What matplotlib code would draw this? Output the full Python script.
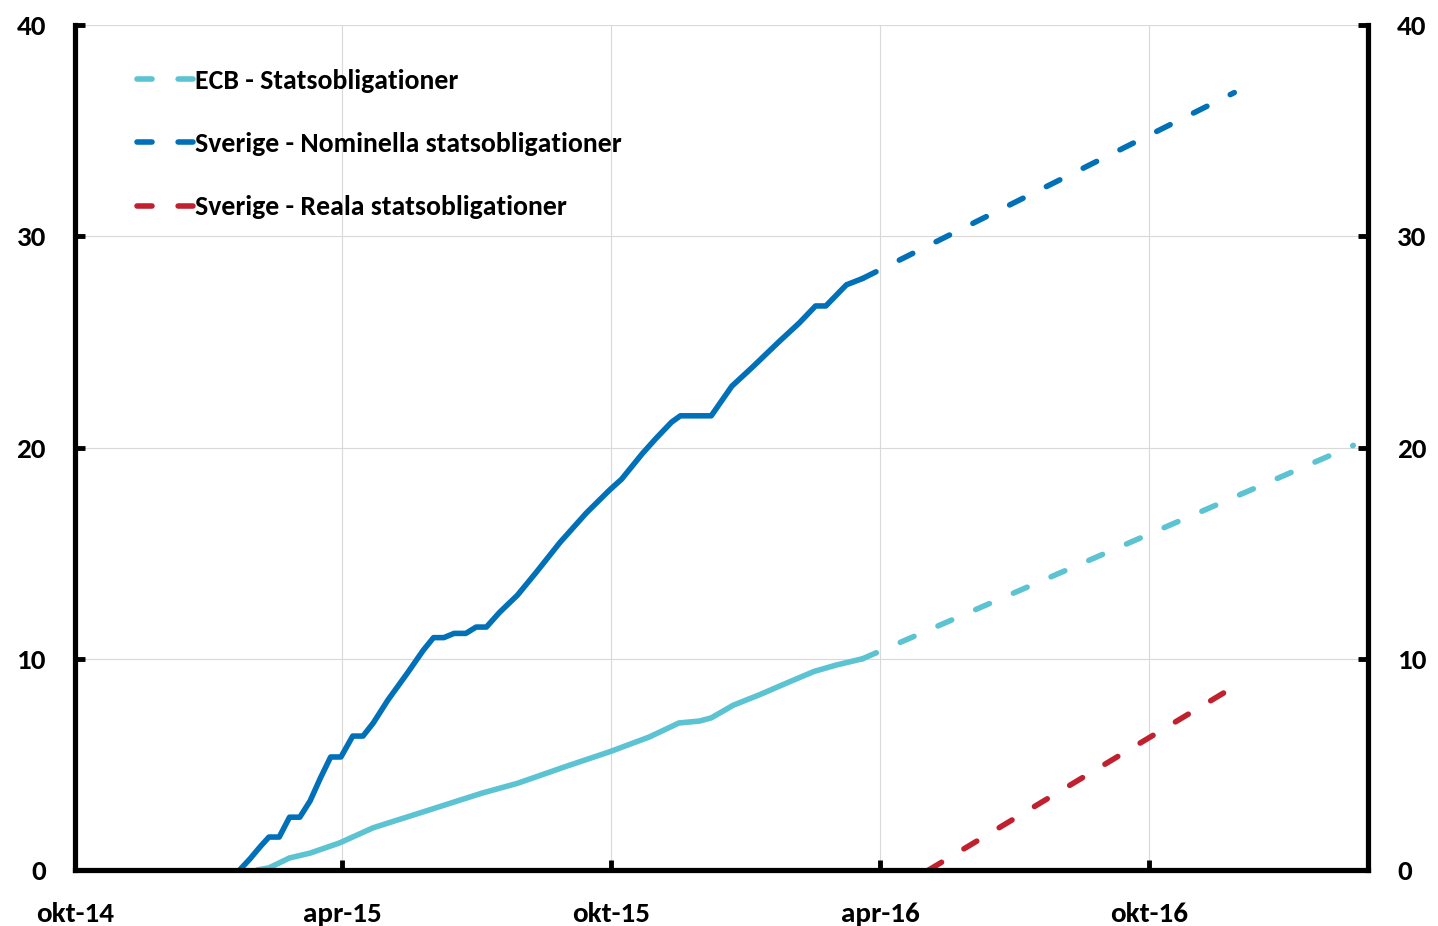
import pandas as pd
import matplotlib.pyplot as plt
from matplotlib.lines import Line2D

# Kumulativa köp, procent av utestående
nom_datum = ['2015-01-21', '2015-01-28', '2015-02-04', '2015-02-10', '2015-02-17',
             '2015-02-24', '2015-03-03', '2015-03-10', '2015-03-17', '2015-03-24',
             '2015-03-31', '2015-04-08', '2015-04-15', '2015-04-22', '2015-05-02',
             '2015-05-15', '2015-05-26', '2015-06-02', '2015-06-09', '2015-06-16',
             '2015-06-24', '2015-07-01', '2015-07-08', '2015-07-17', '2015-07-29',
             '2015-08-11', '2015-08-27', '2015-09-14', '2015-09-30', '2015-10-08',
             '2015-10-22', '2015-10-31', '2015-11-11', '2015-11-17', '2015-12-08',
             '2015-12-22', '2016-01-05', '2016-01-23', '2016-02-06', '2016-02-17',
             '2016-02-24', '2016-03-09', '2016-03-20']
nom_varde = [0.0, 0.52, 1.1, 1.56, 1.56,
             2.5, 2.5, 3.27, 4.35, 5.35,
             5.35, 6.34, 6.34, 6.96, 8.05,
             9.3, 10.4, 11.0, 11.0, 11.2,
             11.2, 11.5, 11.5, 12.2, 13.0,
             14.1, 15.5, 16.9, 18.0, 18.5,
             19.7, 20.4, 21.2, 21.5, 21.5,
             22.9, 23.8, 25.0, 25.9, 26.7,
             26.7, 27.7, 28.0]
nom_prog_datum = ['2016-03-20', '2016-11-28']
nom_prog_varde = [28.0, 36.8]

ecb_datum = ['2015-02-02', '2015-02-10', '2015-02-24', '2015-03-10', '2015-03-30',
             '2015-04-22', '2015-05-01', '2015-05-30', '2015-07-05', '2015-07-29',
             '2015-08-31', '2015-09-30', '2015-10-27', '2015-11-16', '2015-11-30',
             '2015-12-08', '2015-12-23', '2016-01-10', '2016-01-30', '2016-02-16',
             '2016-03-02', '2016-03-20']
ecb_varde = [0.0, 0.1, 0.57, 0.8, 1.28,
             2.0, 2.2, 2.84, 3.64, 4.1,
             4.9, 5.6, 6.3, 6.96, 7.05,
             7.2, 7.8, 8.3, 8.9, 9.4,
             9.7, 10.0]
ecb_prog_datum = ['2016-03-20', '2017-02-17']
ecb_prog_varde = [10.0, 20.1]

real_prog_datum = ['2016-05-04', '2016-11-26']
real_prog_varde = [0.0, 8.6]

xticks = ['2014-10-01', '2015-04-01', '2015-10-01', '2016-04-01', '2016-10-01']
xtick_labels = ['okt-14', 'apr-15', 'okt-15', 'apr-16', 'okt-16']
yticks = [0, 10, 20, 30, 40]

# Färger
c_ecb = '#5BC3D1'
c_nom = '#0070B8'
c_real = '#C1202F'

plt.rcParams['font.family'] = ['Carlito', 'Lato', 'DejaVu Sans']
plt.rcParams['font.weight'] = 'bold'
plt.rcParams['font.size'] = 20

fig = plt.figure(figsize=(14.38, 9.26), dpi=100)
ax = fig.add_axes([75/1438, 1-870/926, (1368-75)/1438, (870-25)/926])

lw = 4
streck = (0, (2.7, 4.7))

ax.plot(pd.to_datetime(nom_datum), nom_varde, color=c_nom, lw=lw,
        solid_capstyle='round', solid_joinstyle='round')
ax.plot(pd.to_datetime(ecb_datum), ecb_varde, color=c_ecb, lw=lw,
        solid_capstyle='round', solid_joinstyle='round')
ax.plot(pd.to_datetime(nom_prog_datum), nom_prog_varde, color=c_nom, lw=lw,
        linestyle=streck, dash_capstyle='round')
ax.plot(pd.to_datetime(ecb_prog_datum), ecb_prog_varde, color=c_ecb, lw=lw,
        linestyle=streck, dash_capstyle='round')
ax.plot(pd.to_datetime(real_prog_datum), real_prog_varde, color=c_real, lw=lw,
        linestyle=streck, dash_capstyle='round')

ax.set_xlim(pd.Timestamp('2014-10-01'), pd.Timestamp('2017-02-27'))
ax.set_ylim(0, 40)
ax.set_xticks(pd.to_datetime(xticks))
ax.set_xticklabels(xtick_labels)
ax.set_yticks(yticks)

# Axlar
for s in ['left', 'right', 'bottom']:
    ax.spines[s].set_linewidth(3.75)
    ax.spines[s].set_color('black')
ax.spines['top'].set_visible(False)
ax.yaxis.set_ticks_position('both')
ax.tick_params(axis='y', direction='in', length=7, width=3.5, pad=21,
               labelleft=True, labelright=True, labelsize=21)
ax.tick_params(axis='x', direction='in', length=7, width=3.5, pad=23,
               labelsize=21)
ax.grid(True, color='#D9D9D9', lw=0.8)
ax.set_axisbelow(True)

# Legend
handles = [Line2D([], [], color=c, lw=lw, linestyle=streck, dash_capstyle='round')
           for c in [c_ecb, c_nom, c_real]]
labels = ['ECB - Statsobligationer',
          'Sverige - Nominella statsobligationer',
          'Sverige - Reala statsobligationer']
fig.legend(handles, labels, loc='upper left', bbox_to_anchor=(137/1438, 1-69/926),
           frameon=False, borderpad=0, borderaxespad=0, handlelength=2.0,
           handletextpad=0.1, labelspacing=1.41)

plt.savefig('out.png', dpi=100)
